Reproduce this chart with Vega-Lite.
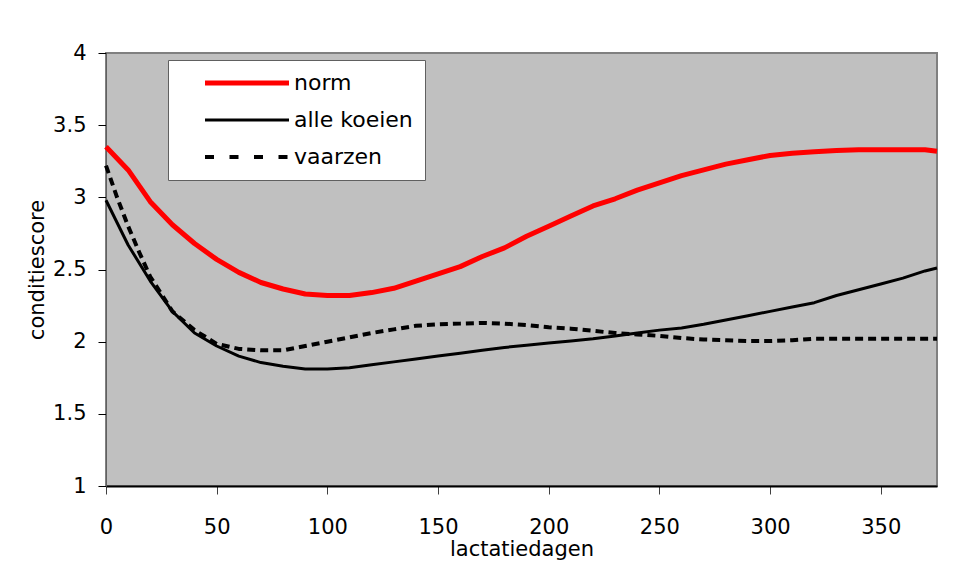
{
  "$schema": "https://vega.github.io/schema/vega-lite/v6.json",
  "autosize": "none",
  "width": 831,
  "height": 433,
  "padding": {"left": 106, "top": 53, "right": 27, "bottom": 79},
  "background": "white",
  "config": {
    "view": {"fill": "#C0C0C0", "stroke": "#808080", "strokeWidth": 2},
    "font": "DejaVu Sans"
  },
  "data": {"values": [
    {"d":0,"v":3.35,"s":"norm"},{"d":10,"v":3.19,"s":"norm"},{"d":20,"v":2.97,"s":"norm"},{"d":30,"v":2.81,"s":"norm"},{"d":40,"v":2.68,"s":"norm"},{"d":50,"v":2.57,"s":"norm"},{"d":60,"v":2.48,"s":"norm"},{"d":70,"v":2.41,"s":"norm"},{"d":80,"v":2.365,"s":"norm"},{"d":90,"v":2.33,"s":"norm"},{"d":100,"v":2.32,"s":"norm"},{"d":110,"v":2.32,"s":"norm"},{"d":120,"v":2.34,"s":"norm"},{"d":130,"v":2.37,"s":"norm"},{"d":140,"v":2.42,"s":"norm"},{"d":150,"v":2.47,"s":"norm"},{"d":160,"v":2.52,"s":"norm"},{"d":170,"v":2.59,"s":"norm"},{"d":180,"v":2.65,"s":"norm"},{"d":190,"v":2.73,"s":"norm"},{"d":200,"v":2.8,"s":"norm"},{"d":210,"v":2.87,"s":"norm"},{"d":220,"v":2.94,"s":"norm"},{"d":230,"v":2.99,"s":"norm"},{"d":240,"v":3.05,"s":"norm"},{"d":250,"v":3.1,"s":"norm"},{"d":260,"v":3.15,"s":"norm"},{"d":270,"v":3.19,"s":"norm"},{"d":280,"v":3.23,"s":"norm"},{"d":290,"v":3.26,"s":"norm"},{"d":300,"v":3.29,"s":"norm"},{"d":310,"v":3.305,"s":"norm"},{"d":320,"v":3.315,"s":"norm"},{"d":330,"v":3.325,"s":"norm"},{"d":340,"v":3.33,"s":"norm"},{"d":350,"v":3.33,"s":"norm"},{"d":360,"v":3.33,"s":"norm"},{"d":370,"v":3.33,"s":"norm"},{"d":375.4,"v":3.32,"s":"norm"},
    {"d":0,"v":2.98,"s":"alle koeien"},{"d":10,"v":2.67,"s":"alle koeien"},{"d":20,"v":2.42,"s":"alle koeien"},{"d":30,"v":2.21,"s":"alle koeien"},{"d":40,"v":2.06,"s":"alle koeien"},{"d":50,"v":1.97,"s":"alle koeien"},{"d":60,"v":1.9,"s":"alle koeien"},{"d":70,"v":1.855,"s":"alle koeien"},{"d":80,"v":1.83,"s":"alle koeien"},{"d":90,"v":1.81,"s":"alle koeien"},{"d":100,"v":1.81,"s":"alle koeien"},{"d":110,"v":1.82,"s":"alle koeien"},{"d":120,"v":1.84,"s":"alle koeien"},{"d":130,"v":1.86,"s":"alle koeien"},{"d":140,"v":1.88,"s":"alle koeien"},{"d":150,"v":1.9,"s":"alle koeien"},{"d":160,"v":1.92,"s":"alle koeien"},{"d":170,"v":1.94,"s":"alle koeien"},{"d":180,"v":1.96,"s":"alle koeien"},{"d":190,"v":1.975,"s":"alle koeien"},{"d":200,"v":1.99,"s":"alle koeien"},{"d":210,"v":2.005,"s":"alle koeien"},{"d":220,"v":2.02,"s":"alle koeien"},{"d":230,"v":2.04,"s":"alle koeien"},{"d":240,"v":2.06,"s":"alle koeien"},{"d":250,"v":2.08,"s":"alle koeien"},{"d":260,"v":2.095,"s":"alle koeien"},{"d":270,"v":2.12,"s":"alle koeien"},{"d":280,"v":2.15,"s":"alle koeien"},{"d":290,"v":2.18,"s":"alle koeien"},{"d":300,"v":2.21,"s":"alle koeien"},{"d":310,"v":2.24,"s":"alle koeien"},{"d":320,"v":2.27,"s":"alle koeien"},{"d":330,"v":2.32,"s":"alle koeien"},{"d":340,"v":2.36,"s":"alle koeien"},{"d":350,"v":2.4,"s":"alle koeien"},{"d":360,"v":2.44,"s":"alle koeien"},{"d":370,"v":2.49,"s":"alle koeien"},{"d":375.4,"v":2.51,"s":"alle koeien"},
    {"d":0,"v":3.22,"s":"vaarzen"},{"d":5,"v":3.0,"s":"vaarzen"},{"d":10,"v":2.8,"s":"vaarzen"},{"d":15,"v":2.62,"s":"vaarzen"},{"d":20,"v":2.45,"s":"vaarzen"},{"d":30,"v":2.21,"s":"vaarzen"},{"d":40,"v":2.08,"s":"vaarzen"},{"d":50,"v":1.985,"s":"vaarzen"},{"d":60,"v":1.95,"s":"vaarzen"},{"d":70,"v":1.94,"s":"vaarzen"},{"d":80,"v":1.94,"s":"vaarzen"},{"d":90,"v":1.97,"s":"vaarzen"},{"d":100,"v":2.0,"s":"vaarzen"},{"d":110,"v":2.03,"s":"vaarzen"},{"d":120,"v":2.06,"s":"vaarzen"},{"d":130,"v":2.085,"s":"vaarzen"},{"d":140,"v":2.11,"s":"vaarzen"},{"d":150,"v":2.12,"s":"vaarzen"},{"d":160,"v":2.125,"s":"vaarzen"},{"d":170,"v":2.13,"s":"vaarzen"},{"d":180,"v":2.125,"s":"vaarzen"},{"d":190,"v":2.115,"s":"vaarzen"},{"d":200,"v":2.1,"s":"vaarzen"},{"d":210,"v":2.09,"s":"vaarzen"},{"d":220,"v":2.075,"s":"vaarzen"},{"d":230,"v":2.06,"s":"vaarzen"},{"d":240,"v":2.05,"s":"vaarzen"},{"d":250,"v":2.04,"s":"vaarzen"},{"d":260,"v":2.025,"s":"vaarzen"},{"d":270,"v":2.015,"s":"vaarzen"},{"d":280,"v":2.01,"s":"vaarzen"},{"d":290,"v":2.005,"s":"vaarzen"},{"d":300,"v":2.005,"s":"vaarzen"},{"d":310,"v":2.01,"s":"vaarzen"},{"d":320,"v":2.02,"s":"vaarzen"},{"d":330,"v":2.02,"s":"vaarzen"},{"d":340,"v":2.02,"s":"vaarzen"},{"d":350,"v":2.02,"s":"vaarzen"},{"d":360,"v":2.02,"s":"vaarzen"},{"d":370,"v":2.02,"s":"vaarzen"},{"d":375.4,"v":2.02,"s":"vaarzen"}
  ]},
  "encoding": {
    "x": {
      "field": "d", "type": "quantitative",
      "scale": {"domain": [0, 375.4], "nice": false, "zero": false},
      "axis": {
        "title": "lactatiedagen",
        "values": [0, 50, 100, 150, 200, 250, 300, 350],
        "grid": false,
        "domainColor": "black", "domainWidth": 2,
        "tickColor": "#404040", "tickSize": 8, "tickWidth": 1,
        "labelFont": "DejaVu Sans", "labelFontSize": 21, "labelColor": "black", "labelPadding": 22,
        "labelFlush": false, "labelOverlap": false,
        "titleFont": "DejaVu Sans", "titleFontSize": 21, "titleFontWeight": "normal", "titleColor": "black",
        "titleBaseline": "alphabetic", "titleY": 69
      }
    },
    "y": {
      "field": "v", "type": "quantitative",
      "scale": {"domain": [1, 4], "nice": false, "zero": false},
      "axis": {
        "title": "conditiescore",
        "values": [1, 1.5, 2, 2.5, 3, 3.5, 4],
        "format": "~g",
        "grid": false,
        "domainColor": "#606060", "domainWidth": 1,
        "tickColor": "black", "tickSize": 8, "tickWidth": 1,
        "labelFont": "DejaVu Sans", "labelFontSize": 21, "labelColor": "black", "labelPadding": 12,
        "labelFlush": false, "labelOverlap": false,
        "titleFont": "DejaVu Sans", "titleFontSize": 21, "titleFontWeight": "normal", "titleColor": "black",
        "titleBaseline": "alphabetic", "titleX": -63
      }
    },
    "color": {
      "field": "s", "type": "nominal",
      "scale": {"domain": ["norm", "alle koeien", "vaarzen"], "range": ["#FF0000", "#000000", "#000001"]},
      "legend": {
        "title": null, "orient": "none", "legendX": 62, "legendY": 7,
        "direction": "vertical",
        "fillColor": "white", "strokeColor": "#606060",
        "padding": 12, "symbolOffset": 56,
        "symbolType": "M-4,0H4", "symbolSize": 441,
        "labelFont": "DejaVu Sans", "labelFontSize": 22, "labelColor": "black", "labelOffset": 36,
        "rowPadding": 15,
        "encode": {"symbols": {"update": {
          "strokeWidth": {"signal": "datum.value === 'norm' ? 5 : (datum.value === 'vaarzen' ? 4 : 3)"},
          "strokeDash": {"signal": "datum.value === 'vaarzen' ? [9, 15.5] : [1, 0]"}
        }}}
      }
    }
  },
  "layer": [
    {"transform": [{"filter": "datum.s === 'norm'"}], "mark": {"type": "line", "strokeWidth": 5, "strokeJoin": "round"}},
    {"transform": [{"filter": "datum.s === 'alle koeien'"}], "mark": {"type": "line", "strokeWidth": 3, "strokeJoin": "round"}},
    {"transform": [{"filter": "datum.s === 'vaarzen'"}], "mark": {"type": "line", "strokeWidth": 4, "strokeDash": [8, 5], "strokeJoin": "round"}}
  ]
}
